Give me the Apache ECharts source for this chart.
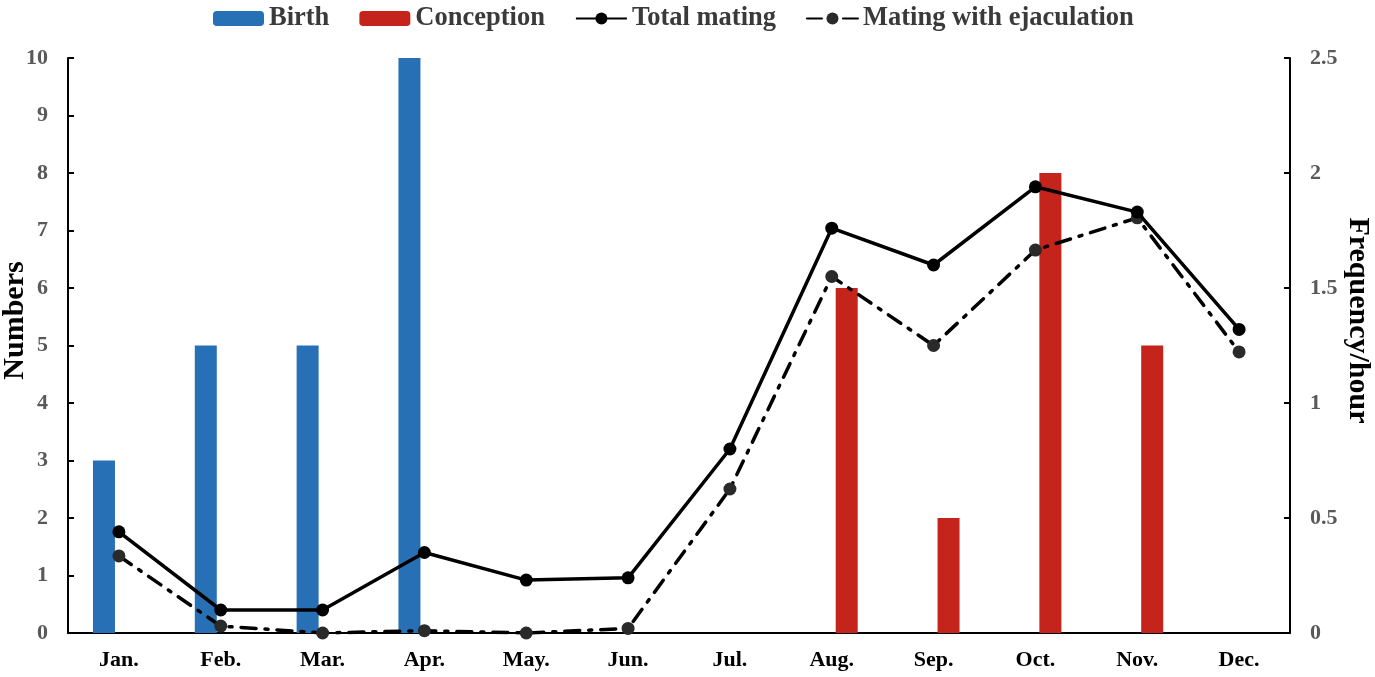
<!DOCTYPE html>
<html><head><meta charset="utf-8">
<script src="https://cdn.jsdelivr.net/npm/echarts@6/dist/echarts.min.js"></script>
<style>html,body{margin:0;padding:0;background:#fff}#c{width:1375px;height:677px}</style>
</head><body><div id="c"></div>
<script>
const months = ['Jan.','Feb.','Mar.','Apr.','May.','Jun.','Jul.','Aug.','Sep.','Oct.','Nov.','Dec.'];
const birth = [3,5,5,10,null,null,null,null,null,null,null,null];
const conception = [null,null,null,null,null,null,null,6,2,8,5,null];
const totalMating = [0.44,0.10,0.10,0.35,0.23,0.24,0.80,1.76,1.60,1.94,1.83,1.32];
const matingEjac = [0.335,0.03,0.0,0.01,0.0,0.02,0.626,1.55,1.25,1.665,1.805,1.222];

const font = 'Liberation Serif';
const chart = echarts.init(document.getElementById('c'));
chart.setOption({
  animation:false,
  textStyle:{fontFamily:font},
  legend:{
    top:0,left:208,itemGap:30,itemWidth:51,itemHeight:15,
    textStyle:{fontFamily:font,fontWeight:'bold',fontSize:26.5,color:'#3a3a3a'},
    data:[{name:'Birth'},{name:'Conception'},{name:'Total mating'},{name:'Mating with ejaculation'}]
  },
  grid:{left:68,right:85,top:58,bottom:44,containLabel:false,outerBoundsMode:'none'},
  xAxis:{
    type:'category',data:months,boundaryGap:true,
    axisLine:{lineStyle:{color:'#000',width:2}},
    axisTick:{inside:true,length:6,lineStyle:{color:'#000',width:2}},
    axisLabel:{color:'#000',fontFamily:font,fontWeight:'bold',fontSize:22,margin:16}
  },
  yAxis:[{
    type:'value',min:0,max:10,interval:1,
    name:'Numbers',nameLocation:'middle',nameGap:38,nameRotate:90,nameMoveOverlap:false,
    nameTextStyle:{color:'#000',fontFamily:font,fontWeight:'bold',fontSize:30,padding:[0,0,0,50]},
    axisLine:{show:true,lineStyle:{color:'#000',width:2}},
    axisTick:{show:true,inside:true,length:6,lineStyle:{color:'#000',width:2}},
    axisLabel:{color:'#595959',fontFamily:font,fontWeight:'bold',fontSize:22,margin:20},
    splitLine:{show:false}
  },{
    type:'value',min:0,max:2.5,interval:0.5,position:'right',
    name:'Frequency/hour',nameLocation:'middle',nameGap:53,nameRotate:-90,nameMoveOverlap:false,
    nameTextStyle:{color:'#000',fontFamily:font,fontWeight:'bold',fontSize:30,padding:[0,50,0,0]},
    axisLine:{show:true,lineStyle:{color:'#000',width:2}},
    axisTick:{show:true,inside:true,length:6,lineStyle:{color:'#000',width:2}},
    axisLabel:{color:'#595959',fontFamily:font,fontWeight:'bold',fontSize:22,margin:20},
    splitLine:{show:false}
  }],
  series:[
    {name:'Birth',type:'bar',data:birth,barWidth:22,barGap:'36%',itemStyle:{color:'#2870b5'},z:1},
    {name:'Conception',type:'bar',data:conception,barWidth:22,itemStyle:{color:'#c4241c'},z:1},
    {name:'Total mating',type:'line',yAxisIndex:1,data:totalMating,symbol:'circle',symbolSize:13,
      lineStyle:{color:'#000',width:3.5},itemStyle:{color:'#000'},z:4},
    {name:'Mating with ejaculation',type:'line',yAxisIndex:1,data:matingEjac,symbol:'circle',symbolSize:13,
      lineStyle:{color:'#000',width:3.5,type:[15,9,3,9],cap:'round'},itemStyle:{color:'#2a2a2a'},z:3}
  ]
});
</script></body></html>
